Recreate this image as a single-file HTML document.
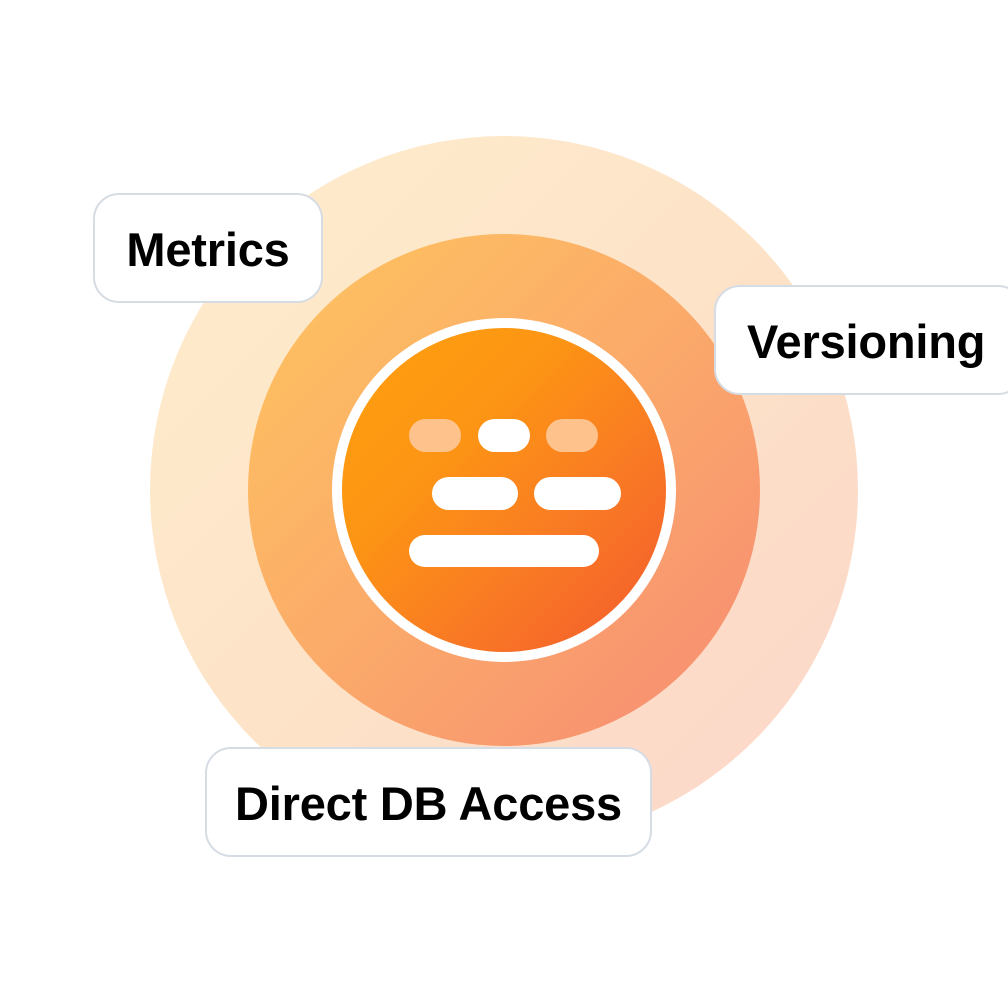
<!DOCTYPE html>
<html><head><meta charset="utf-8"><style>
html,body{margin:0;padding:0;background:#fff;}
body{width:1008px;height:1008px;position:relative;overflow:hidden;font-family:"Liberation Sans",Arial,sans-serif;}
.c{position:absolute;border-radius:50%;}
.box{position:absolute;background:#fff;border:2px solid #d6dce4;border-radius:26px;box-sizing:border-box;display:flex;align-items:center;justify-content:center;font-weight:bold;font-size:47px;color:#000;letter-spacing:-0.2px;padding-top:2px;}
.p{position:absolute;border-radius:17px;background:#fff;}
.l{background:#fec38c;}
</style></head><body>
<div class="c" style="left:150px;top:136px;width:708px;height:708px;background:linear-gradient(135deg,#feedcc 0%,#fde3c8 50%,#fbd5c9 100%);"></div>
<div class="c" style="left:248px;top:234px;width:512px;height:512px;background:linear-gradient(135deg,#fec55e 0%,#fbaa6a 50%,#f68a73 100%);"></div>
<div class="c" style="left:332px;top:318px;width:344px;height:344px;background:#fff;"></div>
<div class="c" style="left:342px;top:328px;width:324px;height:324px;background:linear-gradient(135deg,#fea00e 0%,#fd9514 35%,#f97a24 65%,#f45a2e 100%);"></div>
<div class="p l" style="left:409px;top:419px;width:52px;height:33px;"></div>
<div class="p" style="left:478px;top:419px;width:52px;height:33px;"></div>
<div class="p l" style="left:546px;top:419px;width:52px;height:33px;"></div>
<div class="p" style="left:432px;top:477px;width:86px;height:33px;"></div>
<div class="p" style="left:534px;top:477px;width:87px;height:33px;"></div>
<div class="p" style="left:409px;top:535px;width:190px;height:32px;"></div>
<div class="box" style="left:93px;top:193px;width:230px;height:110px;">Metrics</div>
<div class="box" style="left:714px;top:285px;width:310px;height:110px;justify-content:flex-start;padding-left:31px;">Versioning</div>
<div class="box" style="left:205px;top:747px;width:447px;height:110px;">Direct DB Access</div>
</body></html>
